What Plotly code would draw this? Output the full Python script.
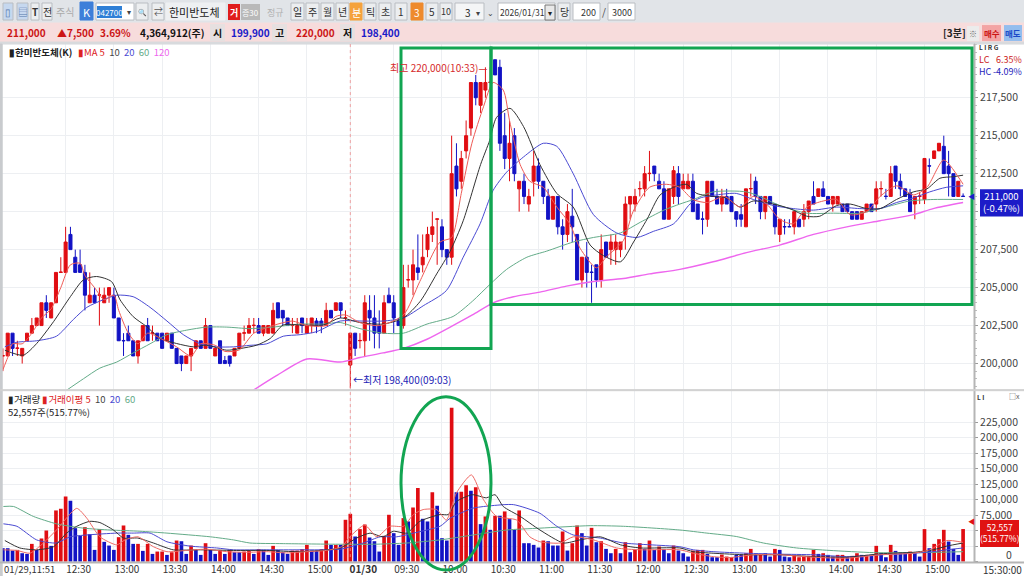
import plotly.graph_objects as go

# ---------- candles (thousand won) ----------
opens = [200.5,200.5,202,201,200.5,201.5,202,202.5,202.5,204,
203,204,206,206,208.5,207,206.5,206,204,204.5,
204.5,204,204.5,204.5,203,201.52,202,201.5,200.5,201.5,
202.5,202,202,202,201.5,202,201,200.5,200,200.5,
201,201.5,201,202.5,200.5,201.5,200.2,200.5,200.5,201,
202,202,202.5,202.5,202,202,202,204,203.5,203,
202.5,202,203,202,202.5,202.8,202.8,202.5,203.5,203.5,
204,203,199.9,202,201.5,201.5,203.5,203,202.5,202,
204.5,204,202.8,202.5,205.5,205.5,206.3,206.5,207.5,208.5,
209.5,209,207.5,207,213,212,214,215.5,218.5,217,
218,218.5,220,219.5,215,213.5,215,211.5,212,210.5,
212,213,212,211,209.5,211,209,208.5,209.7,208.5,
205.5,207,206.02,206.5,205.5,208,207.5,207.5,207.5,208.5,
210.5,210.5,211.5,211.5,212.5,213,212,211.5,209.5,211,
212.5,211.5,211.5,212,210.5,209.52,209.5,212,211,210.5,
211,211,210,209.8,209,211.5,212,211,210,211,
210.5,208.5,209.02,209.02,209,209.5,209.5,210,211,211,
211.5,211,210.5,210.5,210.5,210.5,210,210,209.5,210,
210.5,210.5,211.5,211.02,211,213,212,211.5,211.2,210.5,
211,210.8,213.02,213.5,214,214.3,213,212.5,211,211.02]
closes = [200.52,202,201,201.02,201,202,202.5,203,204,203.5,
204,206,206.02,208,207.5,206,206,204.5,204.5,204,
204.52,204.5,205,203,201.5,201.5,201.5,200.5,201.5,202.5,
201.5,202.02,201.5,201,202,201,200,200,200.5,201,
201.5,201,202.5,201,201,200,200,200,201,202,
202.02,202.5,202.52,202,202.5,202.5,203.5,203,203,202.5,
202.52,202.5,202.5,202.5,203,202.5,202.5,203.5,203,204,
203.5,203.02,202,201,201.52,204,203,202,202,204,
204,203,202.5,205,205.52,206.5,206,207,208.5,209,
209.52,207.5,207,212.5,211.5,213.5,215,218.5,217.5,218.5,
218.5,218.52,219,214.5,213.5,214.5,212.5,212,211,211,
213,212,211,209.5,211,209,208.5,210,209,205.5,
207,206,206,205.5,207.5,207,208,208,208,210.5,
211,211,211.52,212.5,212.52,212.5,211.5,209.5,211.5,212.7,
211,212,212,210,209.5,209.5,212,211,210.5,211,
210.5,210,209.5,209.5,211.5,211.52,211,210,211,210.5,
209,209.5,209,209,210,209,210,210.7,210.5,211.5,
211,210.5,211,211,210,210,209.5,209.5,210,210.5,
210,211.5,211.52,211,212.5,212,211.5,211,210,211,
211.02,213.5,213,214,214.5,212.5,212.5,211,212,211]
highs = [201,202,202,201.5,201,202,203,203,204,204.5,
204,206,207,209,209,207.5,207.5,206.5,206,205,
205,205,205,205,203,202,202.5,201.5,201.5,202.5,
203,202.5,202,202,202,202,201,200.5,200.5,201,
201.5,201.5,203,202.5,201,201.5,200.5,200.5,201,202,
202.5,203,203,203,202.5,202.5,204,204,203.5,203,
203,203,203,203,203,203,203,204,203.5,204,
204,203.5,202,202,202,204.5,204.5,204.5,203.5,204.5,
205,204.5,203,206.5,206.5,207.5,208.5,208.5,209,210,
209.5,209.5,207.5,215,214.5,214,216,218.5,219,218.5,
219.5,219.5,220,220,216.5,216,215.5,212,212.5,211.5,
214,213.5,212,211.5,211,211,209.5,210.5,211.5,208.5,
207,208,206.5,206.5,208.5,208,208.5,208.5,208,211,
211,211.5,212,213,214,213,212.5,212,211.5,213,
213,212.5,212.5,212.5,210.5,210,212,212,211.5,211.5,
211.5,211,210,210.5,211.5,212.5,212.3,211,211,211,
210.5,209.5,209.5,209.5,210,209.5,210.5,210.7,212,211.5,
212,211,211,211,210.5,210.5,210,210,210,210.5,
210.5,212,212,211.5,213,213,212.5,211.5,211.5,211,
211.3,213.5,213.5,214,214.5,215,214,212.5,212,211.2]
lows = [199.5,200.5,200.5,200.5,200,201.5,202,202.5,202.5,203,
203,204,206,206,207.5,206,206,203.5,204,204,
202.5,204,204,203,201.5,200.5,201.5,200.5,200,201.5,
201.5,201.5,201.5,201,201.5,201,200,199.5,200,199.5,
201,201,201,201,200.5,200,200,199.8,200.5,201,
201.5,202,202,202,201.8,202,202,203,202.5,202.5,
202,202,202,202,202,202,202,202.5,203,203.5,
203,202.5,198.4,200.5,201,200.5,201.5,201,201,202,
204,202,202.5,202.3,205,204.5,205.5,206,207,208,
206.5,207,206.5,206.5,211,211.5,213.5,215,217,216.5,
217.5,218.5,219,214,212.8,212,212,210,210.5,210,
211,211.5,210.5,209.5,209.5,208.5,207.5,208,208,205.5,
205,205,204,205,205,207,206.5,206.5,207,207.5,
209.5,210,211,211,212,212,211.5,209.5,209.5,210.5,
210.5,211.5,211.5,210,209.5,208.5,209,211,210.5,210,
210.5,210,209,209,209,211,210.5,209.5,209.5,210.5,
208.5,208,208.5,209,208.5,209,209,209.5,210.5,211,
211,210.5,210,210.5,210,210,209.5,209.5,209.5,210,
210,210,211,210.8,211,211.5,211,211,210,209.5,
210.5,210.5,212.5,213.5,214,212.5,211,211,211,211]

# ---------- volume (thousand shares) ----------
volumes = [21.6,21.6,17.8,18.9,13.5,12.4,28.6,18.9,37.3,50.2,
25.4,82.6,85.3,105.3,98.3,54,41.6,55.6,44.3,18.9,
52.4,31.9,25.9,18.9,39.4,58.3,43.2,28.6,28.6,17.3,
28.6,12.4,16.2,16.2,10.8,15.1,34,32.9,12.4,25.9,
18.9,10.8,29.7,18.9,12.4,18.9,12.4,18.9,15.1,15.1,
16.2,17.8,12.4,20,18.9,10.8,25.4,18.9,15.1,12.4,
17.8,17.8,20,27,17.8,17.8,20,34,27,27,
27,67.5,77.2,40.5,52.4,59.9,38.9,32.9,16.2,41.6,
75.6,45.9,27,70.2,64.8,87.5,118.8,69.1,64.8,111.8,
90.2,37.8,34,248.4,111.8,112.9,123.1,114.5,119.9,60.5,
72.9,51.3,74,74,81,68.6,51.3,82.6,29.7,29.7,
27,22.7,34,32.9,25.9,25.9,48.6,17.8,29.7,58.3,
45.9,25.9,54.5,31.3,32.9,20.5,13.5,20.5,13.5,31.3,
15.1,18.9,29.7,20.5,34,18.9,24.3,20,13.5,25.9,
17.8,13.5,8.1,17.8,18.9,18.9,12.4,7,7,11.3,
8.1,7,10.8,10.8,13.5,20.5,10.8,10.8,13.5,8.1,
20.5,18.9,8.1,7,9.2,7,9.2,9.2,18.9,12.4,
13.5,10.8,8.1,10.8,10.8,7,9.2,13.5,10.8,10.8,
10.8,25.4,13.5,7,27,17.3,15.1,15.1,16.2,13.5,
8.1,52.4,21.6,28.6,36.2,51.3,32.4,20.5,10.8,52.557]
volume_dirs = ("bbbrbbrbrr" "brrrbbbrbb" "rbbbrrbbrb" "rbrrbrrbbr" "bbrbbrbrbb"
               "rrbrbbrbbb" "rrrrbbrrbr" "brrbrrbbbr" "rbbrbrrbbr" "bbbrbrrbrb"
               "rbrbrbbrbb" "bbrbbbrbrr" "bbrbrbbrbr" "brrbrbrbbr" "bbbrrrbbbr"
               "rrbbrrbrbb" "rbbbrrrrrb" "rbbrrbrrbr" "brbbrbbbrb" "brbrrrbbbr")

# ---------- moving averages, read at sampled bars ----------
ma5_i = [0,1,2,4,6,8,10,12,14,16,17,19,21,23,24,26,28,30,33,36,39,41,44,46,49,52,55,57,60,63,67,69,71,74,78,83,86.4,90.6,93,95,97.2,99.6,101.6,103.7,105,107.2,109.2,112,114.8,117.5,119.6,123,125,128.6,130.6,134,137.5,140.3,143,146,149.5,152.8,155.5,158.3,161,163.8,166.6,170,172.8,175.6,179,181.8,185.2,188.7,191.5,195,198.4,199]
ma5_v = [199.6,200.4,201.3,201.3,202,203,203.6,205,206.5,206.6,205.8,205,204.2,204.5,203.5,202,201.3,202,201.6,201.1,200.5,201.3,201.2,200.8,200.9,202,202.4,202.6,202.8,202.5,202.5,203.1,203.2,202.7,202.5,203.2,205.4,208,208.3,211.2,214.5,216.9,218.5,218,216,213.1,212,211.6,210.3,209.2,207.6,206.3,207,208.1,210,211.6,211.8,211.6,210.8,210.6,211,210.3,211,210.5,209.5,209.2,210.3,210.7,210.8,209.8,210,211,211.7,211.1,211.6,213.4,212.1,211.8]
ma10_i = [0.4,4.2,7,10.5,14,16.7,19.4,22.5,24.3,27,29.8,32.6,36,39.5,42.2,46.4,49.2,52.6,55.4,58.1,61.6,66.4,69.9,74,78.8,83,86.5,89.9,92.7,95.4,99,100.9,102.3,105.1,107.9,111.3,114.8,118.2,121.7,124.5,128,130.7,133.5,136.2,139,141.7,143.8,147.2,150,152.8,155.5,159.7,163.1,166.6,169.3,172.8,175.6,179,181.8,185.2,188.7,191.5,194.2,197,199]
ma10_v = [200.88,200.55,201.32,202.76,204.41,205.51,205.73,205.4,204.19,203.09,202.43,201.65,201.32,201.1,201.21,200.88,200.99,201.21,201.65,202.54,202.54,202.54,203,202.7,202.6,203,204.1,205.9,207.4,209.4,213.1,214.7,216.2,216.8,215.6,213.1,211.2,210.3,207.8,207.1,206.7,208,209.5,211.1,211.6,211.8,211.2,211,210.9,210.3,210.7,210.5,210.2,209.7,209.7,210.4,210.5,210.2,210.2,210.8,211.3,211.5,212.2,212.3,212.4]
ma20_i = [0.4,2.9,7,11.1,14.6,17.4,20.8,23.6,27,30.5,34,37.4,40.9,44.3,47.8,51.2,54.7,58.1,61.6,65,69.9,74,78.8,83,87.1,91.9,95.4,98.9,101.6,104.4,107.9,112,114.8,118.2,122.4,127.2,131.4,134.8,139,142.4,144.5,147.9,152,155.5,159.7,163.8,168,172.8,177.6,181.8,185.2,188.7,192.1,195.5,199]
ma20_v = [201.1,201.4,201.5,201.8,202.9,203.7,204.2,204.5,204.4,203.7,202.8,201.9,201.3,201.1,201.1,201.2,201.3,201.8,201.9,202.1,202.8,202.8,202.8,203,203.8,204.8,207,209.2,211.4,212.6,213.6,214.5,214.3,212.5,209.8,208.6,208.3,208.7,209.2,210.5,210.9,211.1,211.2,210.8,210.4,210.2,210.1,210.3,210.2,210.2,210.6,210.9,211.3,211.6,211.7]
ma60_i = [13,16.7,20.1,23.6,27,30.5,34,38.1,42.2,46.4,51.2,56,61.6,66.4,69.9,74,78.8,83,87.9,93.3,97.3,100.9,104.4,108.6,112.7,118.2,122.4,128,132.1,137,140.3,143.1,147.2,154.1,157.6,161,166.6,172.1,177.6,183,187.9,192.8,199]
ma60_v = [198.2,199,199.7,200.1,200.7,201.3,201.9,202.2,202.4,202.4,202.3,202.4,202.6,202.6,202.7,202.3,202,202,202.6,203.1,204.1,205.2,206.2,207,207.4,208,208.3,208.6,209.3,210.1,210.5,210.8,211.3,211.3,210.9,210.4,209.9,209.9,209.9,210.3,210.7,210.8,210.8]
ma120_i = [51.7,56.7,63,69.9,74,78.8,83,87.9,92.7,97.3,101.6,105.8,111.3,116.8,122.4,128.6,134,140.3,147.2,154.1,161,168,174.9,181.8,188.7,192.8,199]
ma120_v = [198.2,199.2,200.3,200.1,200.4,200.7,201,201.6,202.4,203.2,204,204.4,204.7,205.1,205.4,205.6,205.9,206.2,206.7,207.3,207.8,208.5,209,209.4,209.8,210.2,210.6]

vma5_i = [0.1,2.9,5.6,8.4,11.1,15.3,17.4,20.1,23.6,25.3,28,31.2,34,38,42.2,46.4,50.5,54.7,58.8,63,67,70.2,71.9,75,77.5,80.2,83,85.1,87.1,89.9,91.9,94,97.1,99.6,102.3,106.5,109.2,111.3,115.5,118.2,122.4,127.2,132.1,140.3,143.1,147.2,150.7,155.5,161,168,174.9,181.8,188.7,192.1,195.6,199]
vma5_v = [19,18,13.5,30,51,86,70,40,27,35,40,24,16,18,20,16,15,16,14,16,18,24,40,59,40,57,57,76,84,84,67,111,140,100,73,67,40,32,30,40,35,22,19,19,13.5,8,6.5,11,11,7,5.4,11,13.5,19,34,31]
vma10_i = [0.4,3.5,7,10.5,13.2,15.3,18,20.1,22.9,25,27.9,31.2,35.3,40.9,47.8,54.7,61.6,69.9,73.3,76.1,78.8,80.9,83.7,86.4,90.6,92.3,94,97.3,100.2,102,103.7,107.2,111.3,116.2,119.6,123.8,128,132.1,140.3,143.1,147.2,154.1,161,168,174.9,181.8,188.7,192.8,195.6,199]
vma10_v = [34,22,19,24,46,57,65,63,51,38,38,30,19,19,18,18,16,22,38,46,40,49,46,65,76,76,97,108,103,108,89,73,51,30,35,40,27,22,22,16,13.5,11,11,8,7,12.5,15,19,25,30]
vma20_i = [0.1,2.9,7,11.1,13.9,17.4,23.6,27,30.5,34,38.8,44.3,47.8,54.7,61.6,69.9,74.7,78.2,81.6,85.1,90.6,92.7,97.3,100.9,105.8,111.3,114.8,118.2,123.8,128.6,140.3,143.1,147.2,154.1,161,168,174.9,181.8,188.7,192.8,195.6,199]
vma20_v = [61,57,35,30,40,43,46,46,46,32,25,22,19,19,19,20,30,40,40,46,57,70,86,90,92,78,57,43,38,30,24,19,16,13.5,12,11,8,11,13.5,16,19,22]
vma60_i = [0.1,2.2,6.3,11.1,16.7,22.2,28.4,34,43,47.8,51.2,58.1,69.9,76.8,83.7,90.6,97.5,104.4,111.3,121.7,128.6,140.3,145.9,152,157.6,164.5,171.4,180.4,190.7,199]
vma60_v = [89,89,73,61,54,51,49,46,40,35,30,29,28,28,30,35,43,51,54,58,57,51,46,40.5,30,22,18,14.5,14.5,16]

# ---------- axis labels ----------
time_ticks = [13,23,33,43,53,63,72,81,91,101,111,121,131,141,151,161,171,181,191]
time_labels = ["12:30","13:00","13:30","14:00","14:30","15:00","<b>01/30</b>","09:30","10:00","10:30",
               "11:00","11:30","12:00","12:30","13:00","13:30","14:00","14:30","15:00"]
price_ticks = [200,202.5,205,207.5,210,212.5,215,217.5]
price_labels = ["200,000","202,500","205,000","207,500","","212,500","215,000","217,500"]
vol_ticks = [0,25,50,75,100,125,150,175,200,225]
vol_labels = ["","","","75,000","100,000","125,000","150,000","175,000","200,000","225,000"]

W, H = 1024, 576
PLOT_H = 568   # rendered plot height the paper fractions map onto
FONT = "Liberation Sans Narrow, Noto Sans CJK KR, sans-serif"
RED, BLUE = "#e00d12", "#1212c4"
GREEN = "#12a552"
def px(x): return x / W
def py(y): return 1 - y / PLOT_H

bars = list(range(len(closes)))
fig = go.Figure()
fig.add_trace(go.Candlestick(x=bars, open=opens, high=highs, low=lows, close=closes,
    whiskerwidth=0, showlegend=False, hoverinfo="skip",
    increasing=dict(line=dict(color=RED, width=1), fillcolor=RED),
    decreasing=dict(line=dict(color=BLUE, width=1), fillcolor=BLUE),
    xaxis="x", yaxis="y"))
for ix, vs, col, w in [(ma120_i, ma120_v, "#ee66ee", 1.4), (ma60_i, ma60_v, "#63ab88", 1),
                       (ma20_i, ma20_v, "#4a4ad2", 1), (ma10_i, ma10_v, "#333333", 1),
                       (ma5_i, ma5_v, "#ee5a55", 1)]:
    fig.add_trace(go.Scatter(x=ix, y=vs, mode="lines", showlegend=False, hoverinfo="skip",
        line=dict(color=col, width=w, shape="spline", smoothing=0.7), xaxis="x", yaxis="y"))
fig.add_trace(go.Bar(x=bars, y=volumes, marker=dict(color=[RED if d == "r" else BLUE for d in volume_dirs], line_width=0),
    width=0.76, showlegend=False, hoverinfo="skip", xaxis="x2", yaxis="y2"))
for ix, vs, col in [(vma60_i, vma60_v, "#63ab88"), (vma20_i, vma20_v, "#4a4ad2"),
                    (vma10_i, vma10_v, "#333333"), (vma5_i, vma5_v, "#ee6a65")]:
    fig.add_trace(go.Scatter(x=ix, y=vs, mode="lines", showlegend=False, hoverinfo="skip",
        line=dict(color=col, width=1, shape="spline", smoothing=0.6), xaxis="x2", yaxis="y2"))

shapes, notes = [], []
def rect(x0, y0, x1, y1, fill="rgba(0,0,0,0)", line="rgba(0,0,0,0)", lw=1):
    shapes.append(dict(type="rect", xref="paper", yref="paper", x0=px(x0), x1=px(x1), y0=py(y0), y1=py(y1),
                       fillcolor=fill, line=dict(color=line, width=lw)))
def text(x, y, s, color="#222", size=10, anchor="center", family=FONT):
    notes.append(dict(xref="paper", yref="paper", x=px(x), y=py(y), text=s, showarrow=False,
                      xanchor=anchor, yanchor="middle", font=dict(color=color, size=size, family=family),
                      bgcolor="rgba(0,0,0,0)", borderpad=0))
def btn(x0, x1, s, color="#333", fill="#eceef0", size=10):
    rect(x0, 3, x1, 20, fill=fill, line="#b9bdc2")
    text((x0 + x1) / 2, 11.5, s, color, size)

# chrome backgrounds
rect(0, 0, W, 23, fill="#e1e4e8", line="#e1e4e8")
rect(0, 23, W, 42, fill="#f7dcdc", line="#f7dcdc")
rect(0, 42, W, 44, fill="#d8dadd", line="#d8dadd")
rect(0, 44, 2.2, H, fill="#c9cbce", line="#c9cbce")

btn(3, 13, "▯", "#5577aa", "#c6d8ef"); btn(17, 28, "▤", "#5577aa", "#c6d8ef")
btn(31, 39, "<b>T</b>"); btn(42, 52, "전")
text(65, 11.5, "주식", "#aaaaaa")
rect(80, 2, 93, 20, fill="#3d7fd9", line="#3d7fd9"); text(86.5, 11.5, "K", "#ffffff", 11)
rect(96, 3, 134, 20, fill="#ffffff", line="#b9bdc2"); rect(97, 6, 122, 18, fill="#2e7fd6")
text(109.5, 12, "042700", "#ffffff", 8)
text(129, 11.5, "▾", "#444", 8)
btn(136, 148, "🔍", "#555", size=7); btn(152, 164, "⇄", "#555", size=9)
rect(166, 3, 225, 20, fill="#eef0f2", line="#eef0f2"); text(168, 12, "한미반도체", "#222", 11, "left")
rect(228, 4, 240, 20, fill="#e01c1c"); text(234, 12, "<b>거</b>", "#ffffff", 9)
rect(241, 4, 260, 20, fill="#b9b9b9"); text(250.5, 12, "증30", "#ffffff", 8)
text(275, 12, "정규", "#b0b0b0", 9)
for x0, s in [(291, "일"), (306, "주"), (321, "월"), (336, "년")]:
    btn(x0, x0 + 13, s)
rect(350, 3, 362, 20, fill="#f5a23c", line="#f5a23c"); text(356, 12, "분", "#ffffff")
for x0, s in [(364, "틱"), (379, "초"), (395, "1")]:
    btn(x0, x0 + 12, s)
rect(411, 3, 423, 20, fill="#ee8a2c", line="#ee8a2c"); text(417, 12, "3", "#ffffff")
btn(426, 438, "5"); btn(440, 452, "10", size=9)
rect(455, 3, 484, 20, fill="#f4f5f6", line="#b9bdc2"); text(468, 12, "3")
text(478, 12, "▾", "#444", 8); text(490, 12, "⌄", "#444", 8)
rect(498, 3, 555, 20, fill="#ffffff", line="#b9bdc2"); text(499, 12, "2026/01/31", "#333", 8.5, "left")
rect(545, 5, 555, 20, fill="#e8e8e8", line="#777"); text(550, 12, "▾", "#222", 8)
btn(558, 570, "당")
rect(573, 3, 600, 20, fill="#ffffff", line="#b9bdc2"); text(588, 12, "200", "#333", 9)
text(604, 11.5, "/", "#444")
rect(608, 3, 635, 20, fill="#ffffff", line="#b9bdc2"); text(622, 12, "3000", "#333", 9)

# quote band
for x, s, c in [(26, "211,000", "#cc1515"), (75, "▲7,500", "#cc1515"), (115, "3.69%", "#cc1515"),
                (172, "4,364,912(주)", "#111111"), (250, "199,900", "#1a1ac8"),
                (315, "220,000", "#cc1515"), (380, "198,400", "#1a1ac8")]:
    text(x, 32.5, "<b>" + s + "</b>", c, 10)
for x0, x1, s in [(210, 225, "시"), (272, 287, "고"), (340, 355, "저")]:
    rect(x0, 24, x1, 41, fill="#e6e0e0")
    text((x0 + x1) / 2, 32.5, "<b>" + s + "</b>", "#111", 10)
text(954, 32.5, "<b>[3분]</b>", "#222", 10)
rect(967, 26, 979, 41, fill="#ececec"); text(973, 33, "※", "#666", 8)
rect(982, 25, 1001, 41, fill="#f3a4a4"); text(991.5, 33, "<b>매수</b>", "#cc1515", 8.5)
rect(1004, 25, 1022, 41, fill="#94bdee"); text(1013, 33, "<b>매도</b>", "#1a4ac8", 8.5)

# legends and labels
text(8, 52, "<b>▮한미반도체(K)</b>", "#222", 9.5, "left")
text(77, 52, '<span style="color:#d22">▮MA 5</span> <span style="color:#444"> 10</span> <span style="color:#4a4ad2"> 20</span> <span style="color:#63ab88"> 60</span> <span style="color:#ee66ee"> 120</span>', "#444", 9.5, "left")
text(389, 67, "최고 220,000(10:33)—", "#d62b2b", 10, "left")
text(352, 379, "←최저 198,400(09:03)", "#2323b5", 10, "left")
text(7, 398, '<span style="color:#222">▮거래량</span> <span style="color:#d22">▮거래이평 5</span> <span style="color:#444"> 10</span> <span style="color:#4a4ad2"> 20</span> <span style="color:#63ab88"> 60</span>', "#222", 9.5, "left")
text(7, 411, "52,557주(515.77%)", "#222", 9.5, "left")
text(978, 47, "<b>L I R G</b>", "#333", 6.5, "left")
text(978, 59, "LC", "#cc2222", 9, "left"); text(1023, 59, "6.35%", "#cc2222", 9, "right")
text(978, 71, "HC", "#2222bb", 9, "left"); text(1023, 71, "-4.09%", "#2222bb", 9, "right")
text(976, 396, "<b>L I</b>", "#333", 6.5, "left")
text(1014, 395, "□x", "#555", 7)
rect(980, 189, 1023, 216, fill="#1c1cc8"); text(1001.5, 202, "211,000<br>(-0.47%)", "#ffffff", 9.5)
notes.append(dict(xref="paper", yref="paper", x=px(977), y=py(196), text="◀", showarrow=False, font=dict(color="#1c1cc8", size=7)))
rect(980, 519, 1019, 546, fill="#e01212"); text(999.5, 532, "52,557<br>(515.77%)", "#ffffff", 8.5)
notes.append(dict(xref="paper", yref="paper", x=px(977), y=py(527), text="◀", showarrow=False, font=dict(color="#e01212", size=7)))
text(1009, 554, "0", "#444", 10.5)
text(1002, 568, "15:30:00", "#333", 10)
text(3, 568, "01/29,11:51", "#333", 9.5, "left")

# frame lines, day marker, highlight boxes
rect(974, 44, 975, 561, fill="#b5b5b5", line="#b5b5b5")
rect(0, 389, W, 390, fill="#d0d0d0", line="#d0d0d0")
rect(0, 561, W, 562, fill="#b5b5b5", line="#b5b5b5")
shapes.append(dict(type="line", xref="x", yref="paper", x0=72, x1=72, y0=py(44), y1=py(558),
                   line=dict(color="#ee8a8a", width=0.8, dash="dot")))
rect(401, 48, 491, 348, line=GREEN, lw=3)
rect(491, 48, 972, 304, line=GREEN, lw=3)
shapes.append(dict(type="circle", xref="paper", yref="paper", x0=px(401), x1=px(491), y0=py(396), y1=py(569),
                   line=dict(color=GREEN, width=3)))

x_range = [-0.6, 201.26]
grid = "#edeff2"
fig.update_layout(width=W, height=H, margin=dict(l=0, r=0, t=0, b=0), paper_bgcolor="#ffffff", plot_bgcolor="#ffffff",
    showlegend=False, barmode="overlay", hovermode=False, boxgap=0.1, font=dict(family=FONT, color="#444", size=12),
    xaxis=dict(domain=[0, 974 / W], range=x_range, tickmode="array", tickvals=time_ticks, ticktext=[""] * len(time_ticks),
               showgrid=True, gridcolor=grid, zeroline=False, rangeslider=dict(visible=False), anchor="y", ticks=""),
    yaxis=dict(domain=[py(389), py(44)], range=[198.28, 221.03], side="right", anchor="x", tickmode="array",
               tickvals=price_ticks, ticktext=price_labels, showgrid=True, gridcolor=grid, zeroline=False,
               ticks="outside", ticklen=3, tickcolor="#999", tickfont=dict(size=10.5, color="#444"),
               minor=dict(tickmode="linear", tick0=200, dtick=0.5, ticks="outside", ticklen=2, tickcolor="#bbb", showgrid=False)),
    xaxis2=dict(domain=[0, 974 / W], range=x_range, tickmode="array", tickvals=time_ticks, ticktext=time_labels,
                showgrid=True, gridcolor=grid, zeroline=False, anchor="y2", ticks="", ticklabelshift=13,
                tickfont=dict(size=10, color="#333"), ticklabelstandoff=0),
    yaxis2=dict(domain=[py(561), py(390)], range=[-0.65, 276], side="right", anchor="x2", tickmode="array",
                tickvals=vol_ticks, ticktext=vol_labels, showgrid=True, gridcolor=grid, zeroline=False,
                ticks="outside", ticklen=3, tickcolor="#999", tickfont=dict(size=10.5, color="#444")),
    shapes=shapes, annotations=notes)

fig.write_html("out.html", config=dict(displayModeBar=False, responsive=False),
               post_script="document.body.style.margin='0';document.body.style.overflow='hidden';")
